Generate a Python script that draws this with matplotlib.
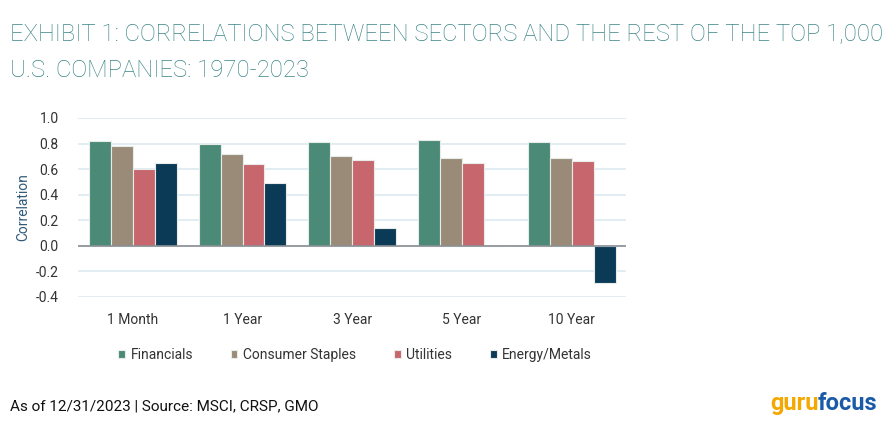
import matplotlib.pyplot as plt
import numpy as np

periods = ['1 Month', '1 Year', '3 Year', '5 Year', '10 Year']
financials = [0.82, 0.80, 0.81, 0.83, 0.81]
staples = [0.78, 0.72, 0.70, 0.69, 0.69]
utilities = [0.60, 0.64, 0.67, 0.65, 0.66]
energy = [0.65, 0.49, 0.14, 0.005, -0.29]
yticks = [1.0, 0.8, 0.6, 0.4, 0.2, 0.0, -0.2, -0.4]

series = [('Financials', financials, '#4a8a76'),
          ('Consumer Staples', staples, '#9a8b79'),
          ('Utilities', utilities, '#c8666e'),
          ('Energy/Metals', energy, '#0b3a57')]

plt.rcParams['font.family'] = ['Roboto', 'DejaVu Sans']

fig = plt.figure(figsize=(8.89, 4.37), dpi=100)
ax = fig.add_axes([0.0877, 0.321, 0.617, 0.409])

x = np.arange(len(periods))
w = 0.2
for i, (name, vals, col) in enumerate(series):
    ax.bar(x + (i - 1.5) * w, vals, w, color=col, edgecolor='#e8ece8',
           linewidth=0.8, label=name, zorder=3)

ax.set_xlim(-0.5, len(periods) - 0.5)
ax.set_ylim(-0.4, 1.0)
ax.set_yticks(yticks)
ax.set_yticklabels([f'{t:.1f}' for t in yticks], fontsize=10, color='#333333')
ax.set_xticks(x)
ax.set_xticklabels(periods, fontsize=10, color='#333333')
ax.tick_params(length=0)
ax.tick_params(axis='x', pad=12)
ax.tick_params(axis='y', pad=14)
ax.grid(axis='y', color='#dde9f1', linewidth=1.2, zorder=0)
ax.axhline(0, color='#8a8f94', linewidth=1.2, zorder=4)
for s in ax.spines.values():
    s.set_visible(False)
ax.set_ylabel('Correlation', fontsize=10, color='#2f5a7a', labelpad=4)

ax.legend(loc='upper center', bbox_to_anchor=(0.505, -0.215), ncol=4, frameon=False,
          fontsize=10, handlelength=0.5, handleheight=0.5, handletextpad=0.4,
          columnspacing=2.7, labelcolor='#333333')

title_kw = dict(fontsize=17.2, color='#3a8486', weight='light', va='baseline')
fig.text(0.011, 0.905, 'EXHIBIT 1: CORRELATIONS BETWEEN SECTORS AND THE REST OF THE TOP 1,000',
         **title_kw)
fig.text(0.011, 0.824, 'U.S. COMPANIES: 1970-2023', **title_kw)

fig.text(0.011, 0.062, 'As of 12/31/2023 | Source: MSCI, CRSP, GMO', fontsize=11,
         color='#111111', va='baseline')
fig.text(0.866, 0.062, 'guru', fontsize=17, color='#f5a800', weight='bold',
         va='baseline')
fig.text(0.920, 0.062, 'focus', fontsize=17, color='#1a5aa8', weight='bold',
         va='baseline')

fig.savefig('out.png', dpi=100)
